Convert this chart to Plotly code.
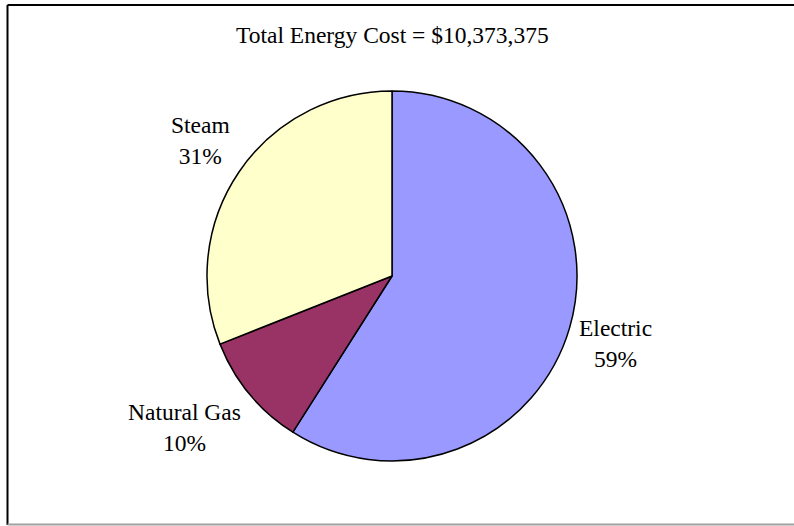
import math
import plotly.graph_objects as go

# Energy cost breakdown by source (percent of total)
sources = ["Electric", "Natural Gas", "Steam"]
shares = [59, 10, 31]
slice_colors = ["#9999FF", "#993366", "#FFFFCC"]
total_cost = "$10,373,375"

W, H = 794, 526
CX, CY, R = 392, 276, 185          # pie centre and radius in pixels
LABEL_GAP = 8
LABEL_HALF_H = 28                  # half height of a two-line label
FONT = "Liberation Serif"
FONT_SIZE = 23.5

fig = go.Figure(
    go.Pie(
        labels=sources,
        values=shares,
        sort=False,
        direction="clockwise",
        rotation=0,
        marker=dict(colors=slice_colors, line=dict(color="black", width=1.5)),
        textinfo="none",
        hoverinfo="label+percent",
        showlegend=False,
        domain=dict(
            x=[(CX - R) / W, (CX + R) / W],
            y=[(H - CY - R) / H, (H - CY + R) / H],
        ),
    )
)

# Category labels placed just outside each slice's mid-angle
total = sum(shares)
cum = 0
for name, v in zip(sources, shares):
    theta = 2 * math.pi * (cum + v / 2) / total
    cum += v
    s, c = math.sin(theta), math.cos(theta)
    px = CX + (R + LABEL_GAP) * s
    py = (H - CY) + (R + LABEL_GAP) * c
    lift = max(-1.0, min(1.0, 1.7 * c)) * LABEL_HALF_H
    fig.add_annotation(
        x=px / W, y=py / H, xref="paper", yref="paper",
        text=f"{name}<br>{round(100 * v / total)}%",
        showarrow=False, align="center",
        xanchor="left" if s > 0 else "right",
        yanchor="middle", yshift=lift,
        font=dict(family=FONT, size=FONT_SIZE, color="black"),
    )

fig.add_annotation(
    x=CX / W, y=(H - 35) / H, xref="paper", yref="paper",
    text=f"Total Energy Cost = {total_cost}",
    showarrow=False, xanchor="center", yanchor="middle",
    font=dict(family=FONT, size=FONT_SIZE, color="black"),
)

# Chart frame: left, top and bottom edges (the right edge lies off the page)
frame = dict(type="line", xref="paper", yref="paper")
fig.add_shape(**frame, x0=7.5 / W, x1=7.5 / W, y0=(H - 525) / H, y1=(H - 5) / H,
              line=dict(color="black", width=2))
fig.add_shape(**frame, x0=7.5 / W, x1=1.0, y0=(H - 5) / H, y1=(H - 5) / H,
              line=dict(color="black", width=2))
fig.add_shape(**frame, x0=7.5 / W, x1=1.0, y0=(H - 524.5) / H, y1=(H - 524.5) / H,
              line=dict(color="#A0A0A0", width=2))

fig.update_layout(
    width=W, height=H,
    margin=dict(l=0, r=0, t=0, b=0),
    paper_bgcolor="white", plot_bgcolor="white",
)

fig.write_html("out.html")
